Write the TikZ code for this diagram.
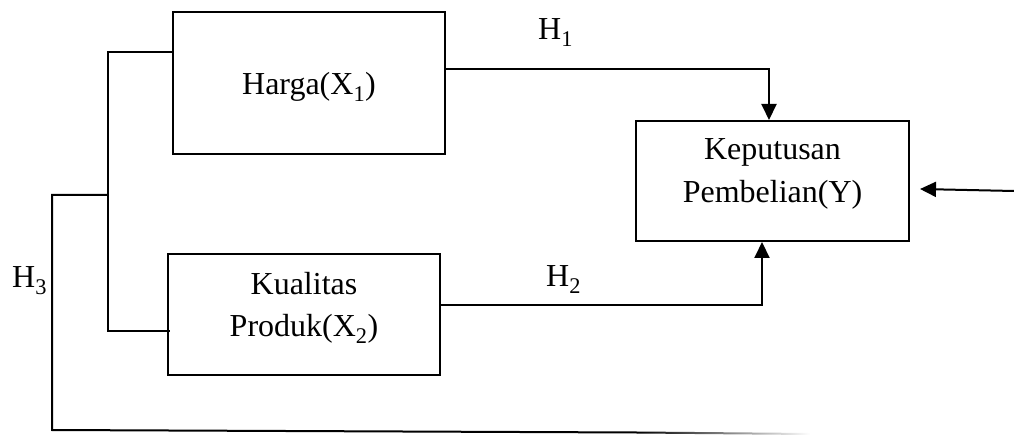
\documentclass[tikz,border=0pt]{standalone}
\usepackage{fontspec}
\setmainfont{Liberation Serif}
\usetikzlibrary{arrows.meta,calc}
\begin{document}
\begin{tikzpicture}[x=1pt,y=-1pt,
  box/.style={draw, line width=2pt, inner sep=0pt},
  txt/.style={font=\fontsize{32}{43}\selectfont, inner sep=0pt, anchor=base},
  wire/.style={line width=2pt},
  arr/.style={wire, -{Triangle[length=16pt,width=15pt]}}]
\useasboundingbox (0,0) rectangle (1014,435);

% variable boxes
\node[box, minimum width=272pt, minimum height=142pt] (harga) at (309,83) {};
\node[box, minimum width=272pt, minimum height=121pt] (kual) at (304,314.5) {};
\node[box, minimum width=273pt, minimum height=120pt] (kep) at (772.5,181) {};

% box texts
\node[txt] (tharga) at (309,95) {Harga(X\textsubscript{1})};
\node[txt] (tkual1) at (304,295) {Kualitas};
\node[txt] (tkual2) at (304,337) {Produk(X\textsubscript{2})};
\node[txt] (tkep1) at (772.5,160) {Keputusan};
\node[txt] (tkep2) at (772.5,203) {Pembelian(Y)};

% hypothesis labels
\node[txt, anchor=base west] (h1) at (538,40) {H\textsubscript{1}};
\node[txt, anchor=base west] (h2) at (546,287) {H\textsubscript{2}};
\node[txt, anchor=base west] (h3) at (12,288) {H\textsubscript{3}};

% H1 and H2 paths
\draw[arr] ($(harga.east)+(0,-14)$) -| ($(kep.north west)+(134,0)$);
\draw[arr] ($(kual.east)+(0,-9.5)$) -| ($(kep.south west)+(127,0)$);

% bracket joining both variables
\coordinate (bt) at (108,52);
\coordinate (bb) at (108,331);
\draw[wire] ($(harga.west)+(0,-31)$) -- (bt) -- (bb) -- ($(kual.west)+(3,16.5)$);

% H3 path (simultaneous effect)
\coordinate (j) at (108,195);
\coordinate (c) at (52,195);
\coordinate (d) at (52,430);
\coordinate (e) at (637,432.5);
\draw[wire] (j) -- (c) -- (d) -- (e);
\shade[left color=black, right color=white]
  (637,431.5) -- (810,433) -- (810,435) -- (637,433.5) -- cycle;

% incoming arrow on the right
\coordinate (src) at (1014,191);
\draw[arr] (src) -- ($(kep.east)+(10,8)$);
\end{tikzpicture}
\end{document}
